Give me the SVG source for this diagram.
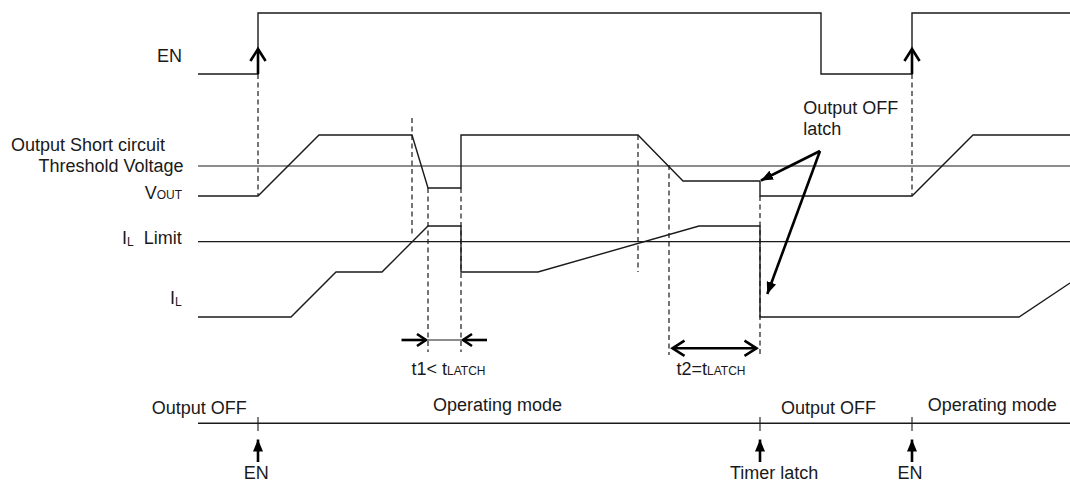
<svg xmlns="http://www.w3.org/2000/svg" width="1070" height="482" viewBox="0 0 1070 482">
<style>
text{font-family:"Liberation Sans",Arial,sans-serif;font-size:18px;fill:#1a1a1a}
.sub{font-size:12px}
.w{fill:none;stroke:#1a1a1a;stroke-width:1.4;stroke-linejoin:miter}
.ref{fill:none;stroke:#1a1a1a;stroke-width:1.2}
.d{fill:none;stroke:#1a1a1a;stroke-width:1.2;stroke-dasharray:5 3.5}
.th{fill:none;stroke:#000;stroke-width:2.6}
.tn{fill:none;stroke:#1a1a1a;stroke-width:1.1}
</style>
<defs>
<marker id="fill" markerUnits="userSpaceOnUse" viewBox="0 0 12 10" markerWidth="12" markerHeight="10" refX="12" refY="5" orient="auto"><path d="M0,0 L12,5 L0,10 z" fill="#000"/></marker>
<marker id="chevL" markerUnits="userSpaceOnUse" viewBox="-2 -10 17 20" markerWidth="17" markerHeight="20" refX="12" refY="0" orient="auto-start-reverse" overflow="visible"><path d="M0,-7.6 L12,0 L0,7.6" fill="none" stroke="#000" stroke-width="2.6"/></marker>
<marker id="chevS" markerUnits="userSpaceOnUse" viewBox="-2 -8 13 16" markerWidth="13" markerHeight="16" refX="9" refY="0" orient="auto" overflow="visible"><path d="M0,-6 L9,0 L0,6" fill="none" stroke="#000" stroke-width="2.6"/></marker>
</defs>

<g id="labels">
<text x="182" y="62" text-anchor="end">EN</text>
<text x="11" y="151">Output Short circuit</text>
<text x="183.5" y="172" text-anchor="end">Threshold Voltage</text>
<text x="182" y="199" text-anchor="end">V<tspan class="sub">OUT</tspan></text>
<text x="122" y="244">I<tspan class="sub" dy="1.5">L</tspan><tspan x="143.8" dy="-1.5">Limit</tspan></text>
<text x="170" y="304">I<tspan class="sub" dy="1.5">L</tspan></text>
</g>

<g id="reference-lines">
<path class="ref" d="M198,166 H1070"/>
<path class="ref" d="M198,241.7 H1070"/>
</g>

<g id="guides">
<path class="d" d="M258,74 V196"/>
<path class="d" d="M412,118 V237"/>
<path class="d" d="M428,188 V352"/>
<path class="d" d="M461,188 V352"/>
<path class="d" d="M638,135 V272"/>
<path class="d" d="M669,165 V355"/>
<path class="d" d="M760,196 V355"/>
<path class="d" d="M912,74 V196"/>
</g>

<g id="EN-wave">
<path class="w" d="M198,74 H258 V13 H821 V74 H912 V13 H1070"/>
<path class="th" d="M258,74 V49" marker-end="url(#chevL)"/>
<path class="th" d="M912,74 V49" marker-end="url(#chevL)"/>
</g>

<g id="VOUT-wave">
<path class="w" d="M198,196 H258 L319,135 H412 L428,188 H461 V135 H638 L683,181 H760 V196 H912 L973,135 H1070"/>
</g>

<g id="IL-wave">
<path class="w" d="M198,317 H291 L336,272 H382 L428,226 H461 V272 H538 L699,226 H760 V317 H1019 L1070,283"/>
</g>

<g id="t1">
<path class="tn" d="M428,340 H461"/>
<path class="th" d="M401.5,340 H426" marker-end="url(#chevS)"/>
<path class="th" d="M487,340 H463" marker-end="url(#chevS)"/>
<text x="411.5" y="375">t1&lt; t<tspan class="sub">LATCH</tspan></text>
</g>

<g id="t2">
<path class="th" d="M672.5,348.3 H756.5" marker-start="url(#chevL)" marker-end="url(#chevL)"/>
<text x="676.5" y="375">t2=t<tspan class="sub">LATCH</tspan></text>
</g>

<g id="latch-note">
<text x="803.3" y="114">Output OFF</text>
<text x="803.3" y="134.5">latch</text>
<path class="th" d="M820,151 L761,180.5" marker-end="url(#fill)"/>
<path class="th" d="M820,151 L767.3,294" marker-end="url(#fill)"/>
</g>

<g id="mode-bar">
<path class="w" d="M198,423.3 H1070"/>
<path class="tn" d="M258,417 V431 M760,417 V431 M912,417 V431"/>
<text x="151.7" y="414">Output OFF</text>
<text x="433" y="411">Operating mode</text>
<text x="781" y="414">Output OFF</text>
<text x="927.7" y="411">Operating mode</text>
<path class="th" d="M258,462 V439.5" marker-end="url(#fill)"/>
<path class="th" d="M760,462 V439.5" marker-end="url(#fill)"/>
<path class="th" d="M912,462 V439.5" marker-end="url(#fill)"/>
<text x="256.3" y="479" text-anchor="middle">EN</text>
<text x="730" y="479">Timer latch</text>
<text x="910" y="479" text-anchor="middle">EN</text>
</g>
</svg>
